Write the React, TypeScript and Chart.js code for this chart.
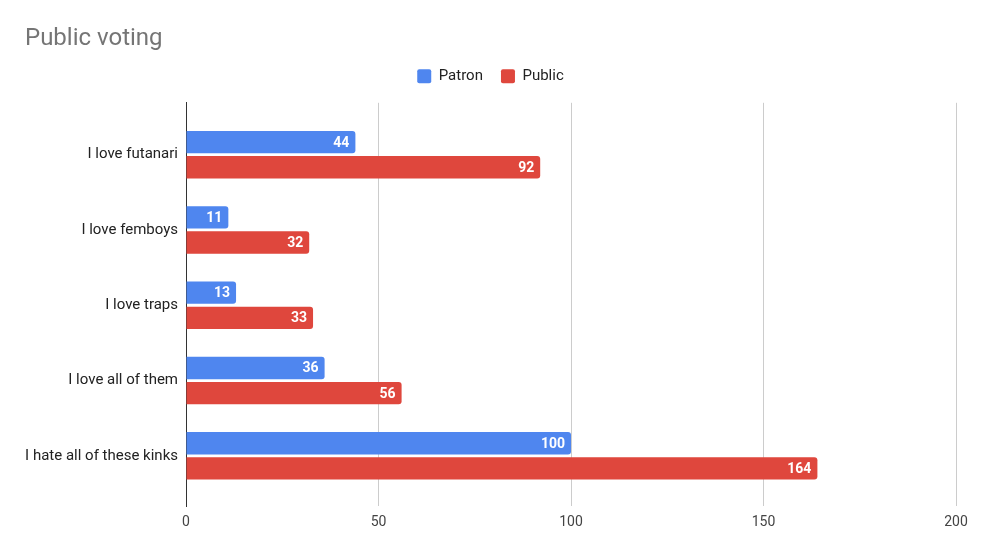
import { useEffect, useRef } from 'react';
import { Chart, registerables } from 'chart.js';

Chart.register(...registerables);

const categories = [
  'I love futanari',
  'I love femboys',
  'I love traps',
  'I love all of them',
  'I hate all of these kinks',
];
const patronVotes = [44, 11, 13, 36, 100];
const publicVotes = [92, 32, 33, 56, 164];
const valueTicks = [0, 50, 100, 150, 200];

const FONT = 'Roboto, "Noto Sans", Arial, sans-serif';

// white value text inside the end of each bar
const barLabels = {
  id: 'barLabels',
  afterDatasetsDraw(chart: any) {
    const { ctx } = chart;
    ctx.save();
    ctx.font = `bold 14px ${FONT}`;
    ctx.fillStyle = '#ffffff';
    ctx.textAlign = 'right';
    ctx.textBaseline = 'middle';
    chart.data.datasets.forEach((ds: any, di: number) => {
      chart.getDatasetMeta(di).data.forEach((bar: any, i: number) => {
        ctx.fillText(String(ds.data[i].x), bar.x - 6, bar.y + 1);
      });
    });
    ctx.restore();
  },
};

// leave a bit more room under the legend, as the reference does
const legendFit = {
  id: 'legendFit',
  beforeInit(chart: any) {
    const legend = chart.legend;
    if (!legend) return;
    const fit = legend.fit;
    legend.fit = function () {
      fit.call(this);
      this.height += 9;
    };
  },
};

export default function App() {
  const ref = useRef<HTMLCanvasElement | null>(null);

  useEffect(() => {
    document.body.style.margin = '0';
    if (!ref.current) return;
    const chart = new Chart(ref.current, {
      type: 'bar',
      data: {
        datasets: [
          {
            label: 'Patron',
            data: patronVotes.map((v, i) => ({ x: v, y: i })),
            backgroundColor: '#4f86ef',
            borderRadius: 3,
            categoryPercentage: 0.668,
            barPercentage: 0.89,
          },
          {
            label: 'Public',
            data: publicVotes.map((v, i) => ({ x: v, y: i })),
            backgroundColor: '#df473d',
            borderRadius: 3,
            categoryPercentage: 0.668,
            barPercentage: 0.89,
          },
        ],
      },
      options: {
        indexAxis: 'y',
        animation: false,
        responsive: true,
        maintainAspectRatio: false,
        layout: { padding: { left: 25, right: 25, top: 25, bottom: 15 } },
        plugins: {
          title: {
            display: true,
            text: 'Public voting',
            align: 'start',
            color: '#757575',
            font: { family: FONT, size: 24, weight: 'normal' },
            padding: { top: 0, bottom: -3 },
          },
          legend: {
            labels: {
              color: '#222222',
              font: { family: FONT, size: 15 },
              boxWidth: 14,
              boxHeight: 14,
              useBorderRadius: true,
              borderRadius: 2,
              padding: 18,
            },
          },
          tooltip: { enabled: false },
        },
        scales: {
          x: {
            type: 'linear',
            min: 0,
            max: 200,
            afterBuildTicks: (scale: any) => {
              scale.ticks = valueTicks.map((value) => ({ value }));
            },
            ticks: {
              color: '#444444',
              font: { family: FONT, size: 14 },
              padding: 8,
            },
            grid: {
              drawTicks: false,
              color: (c: any) => (c.tick && c.tick.value === 0 ? '#333333' : '#cccccc'),
            },
            border: { display: false },
          },
          y: {
            type: 'linear',
            reverse: true,
            offset: false,
            min: -0.69,
            max: 4.67,
            afterBuildTicks: (scale: any) => {
              scale.ticks = categories.map((_, i) => ({ value: i }));
            },
            afterFit: (scale: any) => {
              scale.width = 161;
            },
            ticks: {
              color: '#222222',
              font: { family: FONT, size: 15 },
              padding: 8,
              callback: (v: any) => categories[v] ?? '',
            },
            grid: { display: false, drawTicks: false, offset: false },
            border: { display: true, color: '#333333' },
          },
        },
      },
      plugins: [barLabels, legendFit],
    } as any);
    return () => chart.destroy();
  }, []);

  return (
    <div style={{ width: 981, height: 554, position: 'relative', background: '#fff' }}>
      <canvas ref={ref} aria-label="Public voting bar chart" />
    </div>
  );
}
